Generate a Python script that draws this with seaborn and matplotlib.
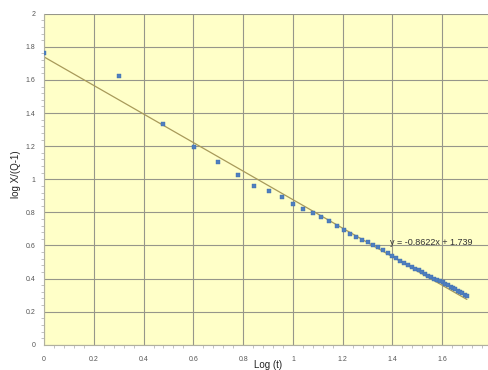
import matplotlib
matplotlib.use("Agg")
import matplotlib.pyplot as plt
from matplotlib.ticker import MultipleLocator
import numpy as np
import pandas as pd
import seaborn as sns

# elapsed time steps
t_values = [1, 2, 3, 4, 5, 6, 7, 8, 9, 10,
            11, 12, 13, 14, 15, 16, 17, 18, 19, 20,
            21, 22, 23, 24, 25, 26, 27, 28, 29, 30,
            31, 32, 33, 34, 35, 36, 37, 38, 39, 40,
            41, 42, 43, 44, 45, 46, 47, 48, 49, 50]

# log X/(Q-1) measured at each step
log_ratio = [1.762, 1.623, 1.335, 1.195, 1.104, 1.027, 0.957, 0.930, 0.894, 0.852,
             0.822, 0.798, 0.774, 0.745, 0.718, 0.693, 0.671, 0.651, 0.636, 0.620,
             0.603, 0.588, 0.570, 0.553, 0.537, 0.522, 0.508, 0.495, 0.483, 0.471,
             0.460, 0.449, 0.438, 0.428, 0.418, 0.408, 0.399, 0.391, 0.384, 0.377,
             0.369, 0.360, 0.352, 0.344, 0.336, 0.327, 0.319, 0.311, 0.303, 0.296]

# linear trend fitted to the log-log data
slope = -0.8622
intercept = 1.739

df = pd.DataFrame({"log_t": np.log10(t_values), "log_ratio": log_ratio})

sns.set_theme(style="white")
plt.rcParams["font.family"] = ["Liberation Sans", "DejaVu Sans"]

fig = plt.figure(figsize=(4.89, 3.70), dpi=100)
ax = fig.add_axes([0.090, 0.068, 1.018, 0.895])
ax.set_facecolor("#FFFFC8")

sns.scatterplot(data=df, x="log_t", y="log_ratio", ax=ax, marker="s",
                s=10, color="#4F7FBF", edgecolor="#3F6FAF", linewidth=0.3,
                zorder=3)

x_fit = np.array([df["log_t"].min(), df["log_t"].max()])
sns.lineplot(x=x_fit, y=slope * x_fit + intercept, ax=ax, color="#A89A5A",
             linewidth=0.9, zorder=2)

ax.set_xlim(0, 2)
ax.set_ylim(0, 2)
ax.xaxis.set_minor_locator(MultipleLocator(0.04))
ax.yaxis.set_minor_locator(MultipleLocator(0.04))

def fmt(v):
    s = f"{v:.1f}"
    return s[:-2] if s.endswith(".0") else s

ticks = np.arange(0, 2.01, 0.2)
ax.set_xticks(ticks)
ax.set_xticklabels([fmt(v) for v in ticks])
ax.set_yticks(ticks)
ax.set_yticklabels([fmt(v) for v in ticks])

ax.grid(True, which="major", color="#96968A", linewidth=0.8)
ax.tick_params(axis="both", which="major", labelsize=5, colors="#555555",
               length=0)
ax.tick_params(axis="x", which="major", pad=8)
ax.tick_params(axis="y", which="major", pad=6)
ax.tick_params(axis="both", which="minor", length=2, color="#AAAAAA",
               direction="out", width=0.5)
ax.tick_params(axis="both", which="both", bottom=True, left=True)

for side in ["top", "right"]:
    ax.spines[side].set_visible(False)
for side in ["left", "bottom"]:
    ax.spines[side].set_color("#B0B0A0")
    ax.spines[side].set_linewidth(0.8)

ax.set_xlabel("Log (t)", fontsize=7, color="#222222")
ax.set_ylabel("log X/(Q-1)", fontsize=7, color="#222222")
ax.xaxis.set_label_coords(0.45, -0.045)
ax.yaxis.set_label_coords(-0.047, 0.515)

ax.text(1.39, 0.62, f"y = {slope}x + {intercept}", fontsize=6.5,
        color="#333333", va="center", ha="left", zorder=4)

fig.savefig("out.png", dpi=100, facecolor="white")
